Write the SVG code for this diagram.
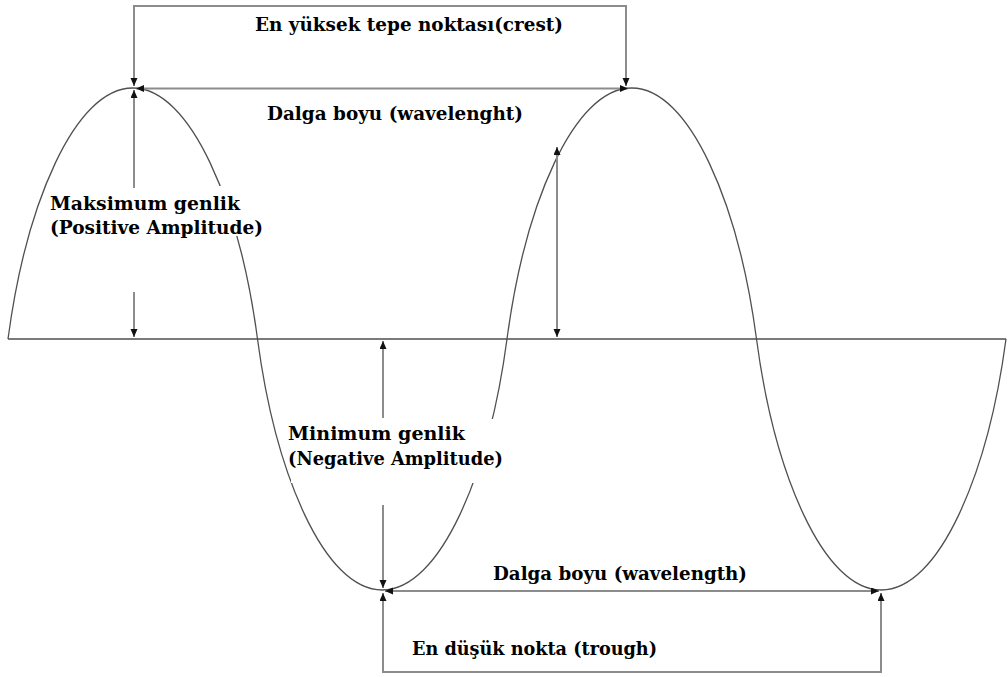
<svg xmlns="http://www.w3.org/2000/svg" width="1008" height="677" viewBox="0 0 1008 677">
<defs>
<marker id="ah" markerUnits="userSpaceOnUse" markerWidth="9" markerHeight="8" refX="8" refY="3.5" orient="auto-start-reverse">
<path d="M0,0 L8,3.5 L0,7 z" fill="#111"/>
</marker>
<style>
.lbl{font-family:"DejaVu Serif","Liberation Serif",serif;font-weight:bold;font-size:18px;fill:#000}
.conn{fill:none;stroke:#8c8c8c;stroke-width:2}
.wave{fill:none;stroke:#505050;stroke-width:1.3}
.axis{fill:none;stroke:#7a7a7a;stroke-width:2}
.mask{fill:#fff;stroke:none}
</style>
</defs>
<rect width="1008" height="677" fill="#fff"/>
<g id="wave">
<path class="axis" d="M8,339 H1006"/>
<path class="wave" d="M8,339 C26,204 74.75,88 132.75,88 C190.75,88 239.5,204 257.5,339 C275.5,474 324.25,590 382.25,590 C440.25,590 489,474 507,339 C525,204 573.75,88 631.75,88 C689.75,88 738.5,204 756.5,339 C774.5,474 823.25,590 881.25,590 C939.25,590 988,474 1006,339"/>
<rect class="mask" x="50" y="186" width="216" height="50"/>
<rect class="mask" x="291" y="419" width="215" height="64"/>
</g>
<g id="connectors">
<path class="conn" d="M134,86 V6 H626 V86" marker-start="url(#ah)" marker-end="url(#ah)"/>
<path class="conn" d="M136,88.5 H628" marker-start="url(#ah)" marker-end="url(#ah)"/>
<path class="conn" d="M134,188 V90" marker-end="url(#ah)"/>
<path class="conn" d="M134,292 V337" marker-end="url(#ah)"/>
<path class="conn" d="M557,147 V337" marker-start="url(#ah)" marker-end="url(#ah)"/>
<path class="conn" d="M383,418 V341" marker-end="url(#ah)"/>
<path class="conn" d="M383,505 V588" marker-end="url(#ah)"/>
<path class="conn" d="M385,591 H879" marker-start="url(#ah)" marker-end="url(#ah)"/>
<path class="conn" d="M383,593 V672 H881 V593" marker-start="url(#ah)" marker-end="url(#ah)"/>
</g>
<g id="crest-label"><text class="lbl" x="255" y="31" textLength="308" lengthAdjust="spacingAndGlyphs">En yüksek tepe noktası(crest)</text></g>
<g id="wavelength-top-label"><text class="lbl" x="267" y="120" textLength="256" lengthAdjust="spacingAndGlyphs">Dalga boyu (wavelenght)</text></g>
<g id="positive-amplitude-label">
<text class="lbl" x="50" y="210" textLength="190" lengthAdjust="spacingAndGlyphs">Maksimum genlik</text>
<text class="lbl" x="50" y="234" textLength="213" lengthAdjust="spacingAndGlyphs">(Positive Amplitude)</text>
</g>
<g id="negative-amplitude-label">
<text class="lbl" x="288" y="440" textLength="177" lengthAdjust="spacingAndGlyphs">Minimum genlik</text>
<text class="lbl" x="288" y="465" textLength="215" lengthAdjust="spacingAndGlyphs">(Negative Amplitude)</text>
</g>
<g id="wavelength-bottom-label"><text class="lbl" x="493" y="580" textLength="254" lengthAdjust="spacingAndGlyphs">Dalga boyu (wavelength)</text></g>
<g id="trough-label"><text class="lbl" x="412" y="655" textLength="245" lengthAdjust="spacingAndGlyphs">En düşük nokta (trough)</text></g>
</svg>
